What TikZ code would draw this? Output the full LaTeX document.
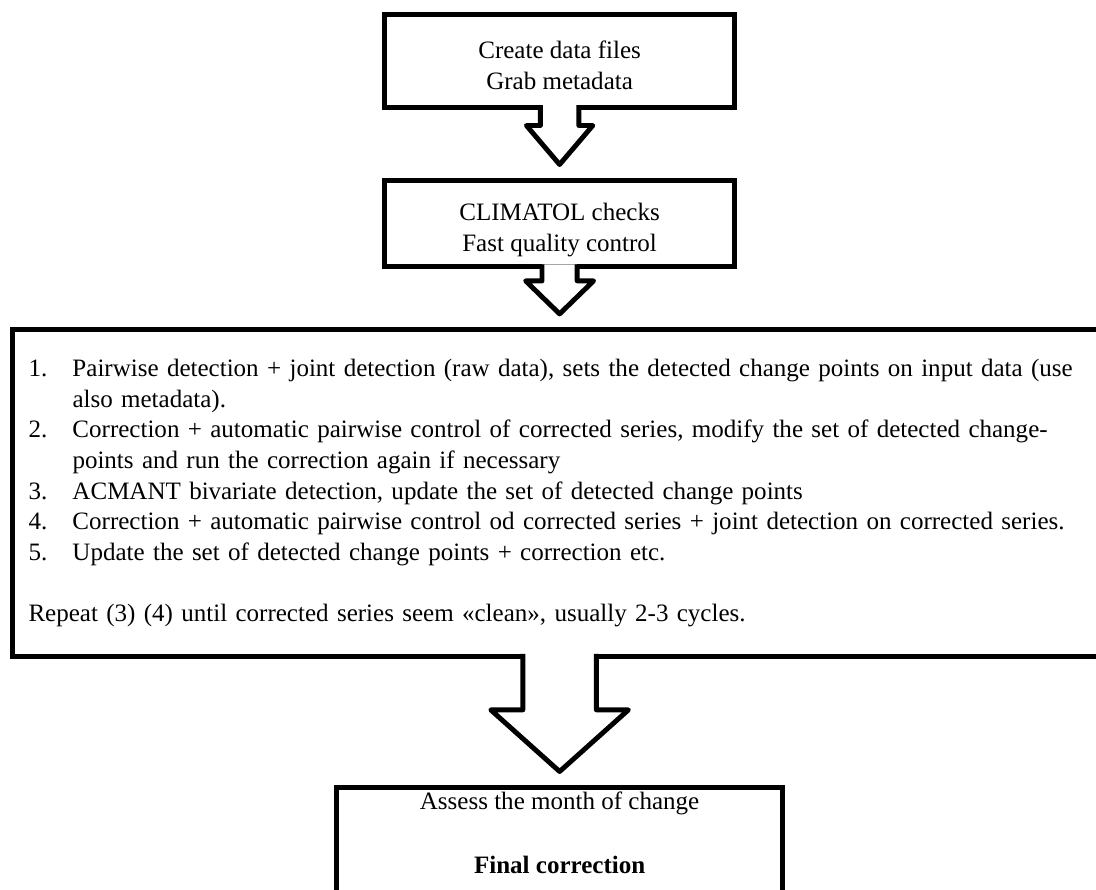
\documentclass[tikz,border=0pt]{standalone}
\usepackage{fontspec}
\setmainfont{Liberation Serif}
\usepackage{tikz}
\usetikzlibrary{positioning}
\usetikzlibrary{calc}
\newcommand{\stepsize}{\fontsize{17.8}{21.8}\selectfont}
\tikzstyle{stepblock} = [draw, fill=white, rectangle, line width=3.5pt, outer sep=0pt, align=center, minimum width=8.76cm]
\tikzstyle{listblock} = [draw, fill=white, rectangle, line width=3.5pt, outer sep=0pt, align=left, inner xsep=0.4cm, text width=26.555cm, minimum height=8.16cm]
\tikzstyle{blockarrow} = [draw, fill=white, line width=3.5pt, line join=round]

\begin{document}
\begin{tikzpicture}[font=\stepsize]

	\useasboundingbox (0,0) rectangle (27.4,-22.225);
	\clip (0,0) rectangle (27.4,-22.225);

	\node [stepblock, minimum height=2.325cm] (create) at (13.99,-1.525)
	{\rule{0pt}{0.64cm}Create data files\\Grab metadata};
	\node [stepblock, minimum height=2.16cm, node distance=1.825cm, below=of create] (check)
	{\rule{0pt}{0.76cm}CLIMATOL checks\\Fast quality control};
	\node [listblock, node distance=1.575cm, below=of check] (steps)
	{\begin{tabular}{@{}p{1.1cm}@{}l@{}}
	1. & Pairwise detection + joint detection (raw data), sets the detected change points on input data (use\\
	   & also metadata).\\
	2. & Correction + automatic pairwise control of corrected series, modify the set of detected change-\\
	   & points and run the correction again if necessary\\
	3. & ACMANT bivariate detection, update the set of detected change points\\
	4. & Correction + automatic pairwise control od corrected series + joint detection on corrected series.\\
	5. & Update the set of detected change points + correction etc.\\
	   & \\
	\multicolumn{2}{@{}l@{}}{Repeat (3) (4) until corrected series seem «clean», usually 2-3 cycles.}
	\end{tabular}};
	\node [stepblock, minimum width=11.16cm, inner ysep=0.1cm, node distance=3.28cm, below=of steps] (final)
	{Assess the month of change\\[24pt]\textbf{Final correction}\\[1.5cm]\mbox{}};

	% fat arrows between the blocks
	\draw [blockarrow] ([xshift=-0.48cm, yshift=1.75pt]create.south) -- ++(0,-0.45cm-1.75pt) -- ++(-0.35cm,0)
		-- ([yshift=0.4cm]check.north) -- ($(create.south)+(0.83cm,-0.45cm)$) -- ++(-0.35cm,0) -- ++(0,0.45cm+1.75pt);
	\draw [blockarrow] ([xshift=-0.44cm, yshift=1.75pt]check.south) -- ++(0,-0.35cm-1.75pt) -- ++(-0.41cm,0)
		-- ([yshift=0.4cm]steps.north) -- ($(check.south)+(0.85cm,-0.35cm)$) -- ++(-0.41cm,0) -- ++(0,0.35cm+1.75pt);
	\draw [blockarrow] ([xshift=-0.92cm, yshift=1.75pt]steps.south) -- ++(0,-1.34cm-1.75pt) -- ++(-0.8cm,0)
		-- ([yshift=0.4cm]final.north) -- ($(steps.south)+(1.72cm,-1.34cm)$) -- ++(-0.8cm,0) -- ++(0,1.34cm+1.75pt);
\end{tikzpicture}
\end{document}
